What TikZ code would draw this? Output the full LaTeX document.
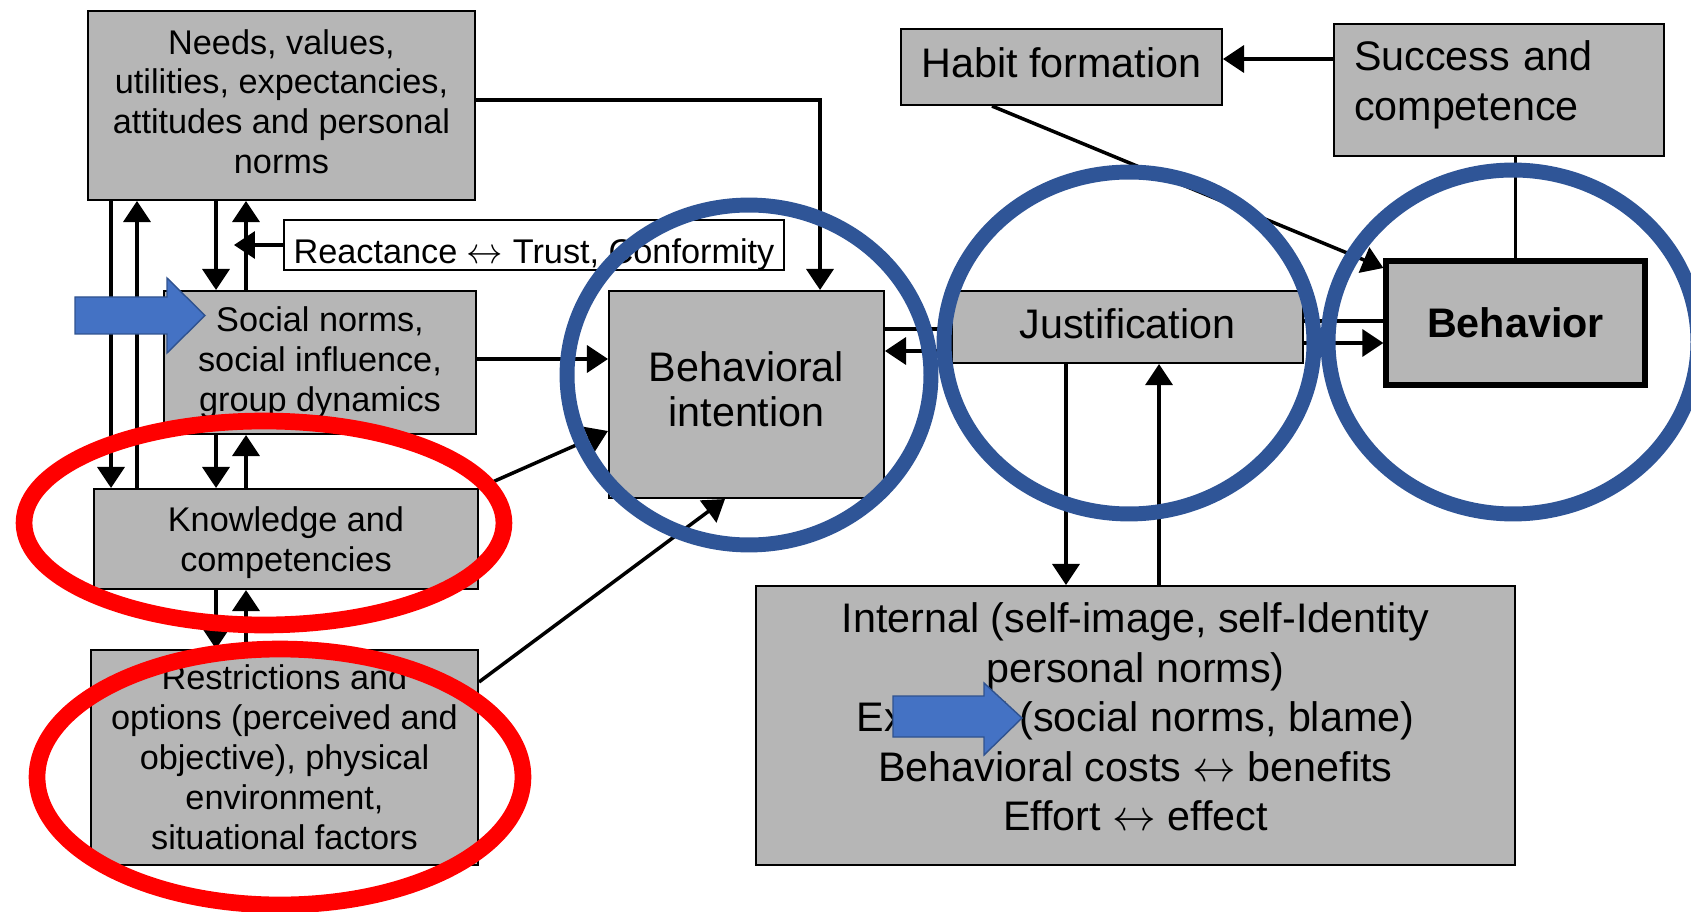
\documentclass[tikz,border=0pt]{standalone}
\usepackage{fontspec}
\setmainfont{Liberation Sans}
\usepackage{tikz}
\usetikzlibrary{arrows.meta}

\definecolor{boxgray}{RGB}{182,182,182}
\definecolor{ringblue}{RGB}{47,85,151}
\definecolor{arrowblue}{RGB}{68,114,196}
\definecolor{arrowedge}{RGB}{47,82,143}

\begin{document}
\begin{tikzpicture}[->,>={Triangle[length=0.42cm,width=0.54cm]},x=0.02cm,y=-0.02cm,
		line width=2pt,
		box/.style={draw,fill=boxgray,line width=1.2pt,align=center,inner sep=2pt,
			font=\fontsize{19.5}{22.7}\selectfont},
		bigbox/.style={box,font=\fontsize{23.5}{28.2}\selectfont},
		ring/.style={-,draw=ringblue,line width=8.5pt},
		redring/.style={-,draw=red,line width=9.5pt},
		bluearrow/.style={-,fill=arrowblue,draw=arrowedge,line width=0.8pt}]

		\clip (0,0) rectangle (1691,912);

		\node[box,minimum width=7.74cm,minimum height=3.78cm,text depth=0.16cm] (needs) at (281.5,105.5)
			{Needs, values,\\utilities, expectancies,\\attitudes and personal\\norms};
		\node[box,fill=white,minimum width=10cm,minimum height=1cm,text height=0.75cm,
			text depth=0cm] (react) at (534,245)
			{Reactance $\leftrightarrow$ Trust, Conformity};
		\node[box,minimum width=6.24cm,minimum height=2.86cm] (social) at (320,362.5)
			{Social norms,\\social influence,\\group dynamics};
		\node[box,minimum width=7.68cm,minimum height=2cm,text depth=0cm] (know) at (286,539)
			{Knowledge and\\competencies};
		\node[box,minimum width=7.74cm,minimum height=4.3cm] (restr) at (284.5,757.5)
			{Restrictions and\\options (perceived and\\objective), physical\\environment,\\situational factors};
		\node[bigbox,minimum width=5.5cm,minimum height=4.14cm,text depth=0.22cm,
			font=\fontsize{23.5}{26}\selectfont] (intent) at (746.5,394.5)
			{Behavioral\\intention};
		\node[bigbox,minimum width=7.02cm,minimum height=1.44cm,text depth=0.12cm] (justif)
			at (1127.5,327) {Justification};
		\node[bigbox,line width=3pt,minimum width=5.18cm,minimum height=2.48cm,
			font=\fontsize{23.5}{28.2}\selectfont\bfseries] (behav) at (1515.5,323) {Behavior};
		\node[bigbox,minimum width=6.42cm,minimum height=1.52cm,text depth=0.17cm] (habit)
			at (1061.5,67) {Habit formation};
		\node[bigbox,align=left,text width=5.8cm,inner xsep=0.4cm,minimum height=2.64cm,
			text depth=1.37cm] (success) at (1499,90) {Success and\\competence};
		\node[bigbox,minimum width=15.18cm,minimum height=5.58cm,text depth=0.35cm] (internal)
			at (1135.5,725.5)
			{Internal (self-image, self-Identity\\personal norms)\\External (social norms, blame)\\
			Behavioral costs $\leftrightarrow$ benefits\\Effort $\leftrightarrow$ effect};

		\draw (111,0 |- needs.south) -- (111,0 |- know.north);
		\draw (137,0 |- know.north) -- (137,0 |- needs.south);
		\draw (216,0 |- needs.south) -- (216,0 |- social.north);
		\draw (246,0 |- social.north) -- (246,0 |- needs.south);
		\draw (react.west) -- (234,0 |- react.west);
		\draw (216,0 |- social.south) -- (216,0 |- know.north);
		\draw (246,0 |- know.north) -- (246,0 |- social.south);
		\draw (216,0 |- know.south) -- (216,0 |- restr.north);
		\draw (246,0 |- restr.north) -- (246,0 |- know.south);

		\draw (needs.east |- 0,100) -| (820,0 |- intent.north);
		\draw (social.east |- 0,359) -- (intent.west |- 0,359);
		\draw (know.north east) -- (intent.west |- 0,431);
		\draw (restr.east |- 0,682) -- (725,0 |- intent.south);

		\draw[-] (intent.east |- 0,329) -- (justif.west |- 0,329);
		\draw (justif.west |- 0,351) -- (intent.east |- 0,351);
		\draw[-] (behav.west |- 0,321) -- (justif.east |- 0,321);
		\draw (justif.east |- 0,343) -- (behav.west |- 0,343);
		\draw (1066,0 |- justif.south) -- (1066,0 |- internal.north);
		\draw (1159,0 |- internal.north) -- (1159,0 |- justif.south);

		\draw (992,0 |- habit.south) -- (behav.west |- 0,268);
		\draw (success.west |- 0,59) -- (habit.east |- 0,59);
		\draw[-] (behav.north |- success.south) -- (behav.north);

		% highlights
		\draw[ring] (749,375) ellipse [x radius=3.64cm,y radius=3.4cm];
		\draw[ring] (1129,343) ellipse [x radius=3.7cm,y radius=3.42cm];
		\draw[ring] (1513,342) ellipse [x radius=3.7cm,y radius=3.44cm];
		\draw[redring] (264,523) ellipse [x radius=4.8cm,y radius=2.04cm];
		\draw[redring] (280,777) ellipse [x radius=4.86cm,y radius=2.56cm];

		\draw[bluearrow] (75,297) -- (167,297) -- (167,278) -- (205,315.5) -- (167,353)
			-- (167,334) -- (75,334) -- cycle;
		\draw[bluearrow] (893,696) -- (984,696) -- (984,683) -- (1022,718) -- (984,755)
			-- (984,737) -- (893,737) -- cycle;
\end{tikzpicture}
\end{document}
